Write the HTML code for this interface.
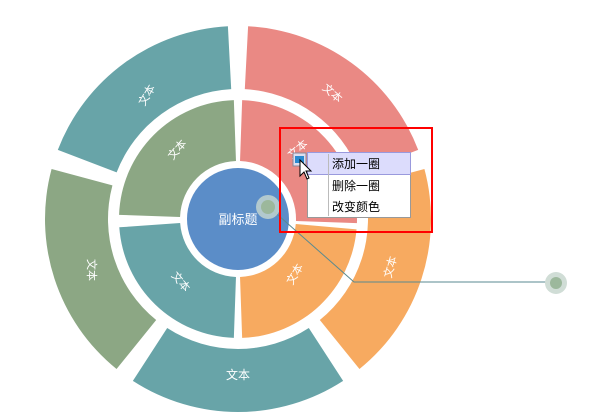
<!DOCTYPE html>
<html><head><meta charset="utf-8"><style>
body{margin:0;width:600px;height:420px;background:#fff;overflow:hidden;font-family:"Liberation Sans","Noto Sans CJK SC",sans-serif}
svg{position:absolute;left:0;top:0}
.lab{font-size:11px;fill:#fff;font-family:"Liberation Sans","Noto Sans CJK SC",sans-serif}
</style></head><body>
<svg id="s" width="600" height="420" viewBox="0 0 600 420"></svg>
<script>
var s=document.getElementById('s'),cx=238,cy=219,NS='http://www.w3.org/2000/svg';
function P(r,a){a=a*Math.PI/180;return [cx+r*Math.cos(a),cy-r*Math.sin(a)];}
function seg(r1,r2,a1,a2,col,off){
 var m=(a1+a2)/2*Math.PI/180,ox=off*Math.cos(m),oy=-off*Math.sin(m);
 var p1=P(r2,a1),p2=P(r2,a2),p3=P(r1,a2),p4=P(r1,a1),lg=Math.abs(a1-a2)>180?1:0;
 var d='M'+p1+' A'+r2+' '+r2+' 0 '+lg+' 1 '+p2+' L'+p3+' A'+r1+' '+r1+' 0 '+lg+' 0 '+p4+'Z';
 var e=document.createElementNS(NS,'path');e.setAttribute('d',d);e.setAttribute('fill',col);
 e.setAttribute('transform','translate('+ox+','+oy+')');s.appendChild(e);}
var T='#68a4a8',PK='#ea8984',G='#8ca784',O='#f7aa60';
seg(130,193,159,93,T,0);seg(130,193,87,21,PK,0);seg(130,193,15,-51,O,0);seg(130,193,-57,-123,T,0);seg(130,193,-129,-195,G,0);
seg(58,119,178,92,G,0);seg(58,119,88,-2,PK,0);seg(58,119,-5,-88,O,0);seg(58,119,-92,-176,T,0);
var h='<circle cx="238" cy="219" r="51" fill="#5b8dc8"/>'+
'<text x="238" y="224" text-anchor="middle" font-size="13" fill="#fff">副标题</text>';
function L(x,y,r,t){h+='<text class="lab" x="'+x+'" y="'+y+'" text-anchor="middle" transform="rotate('+r+' '+x+' '+y+')">'+(t||'文本')+'</text>';}
L(150,97,-60);L(330,96,40);L(394,268,-75);L(88,270,90);L(180,152,-50);L(298,276,-60);L(178,284,50);L(300,152,-40);
h+='<text x="238" y="379" text-anchor="middle" font-size="12" fill="#fff">文本</text>';
h+='<polyline points="270,208 354,282 556,282" fill="none" stroke="#5a8a90" stroke-width="1"/>';
h+='<circle cx="268" cy="207" r="12" fill="#c8d8d0" opacity="0.8"/><circle cx="268" cy="207" r="7" fill="#9cb89c"/>';
h+='<circle cx="556" cy="283" r="11" fill="#d0ddd6"/><circle cx="556" cy="283" r="6" fill="#9cb89c"/>';
h+='<rect x="280" y="128" width="152" height="104" fill="none" stroke="#f00" stroke-width="2"/>';
h+='<rect x="307.5" y="152.5" width="103" height="65" fill="#fff" stroke="#999"/>';
h+='<rect x="307.5" y="152.5" width="103" height="22" fill="#dcdcfc" stroke="#9999dd"/>';
h+='<line x1="328.5" y1="154" x2="328.5" y2="216" stroke="#bbb"/>';
h+='<text x="332" y="168" font-size="12" fill="#000">添加一圈</text><text x="332" y="190" font-size="12" fill="#000">删除一圈</text><text x="332" y="211" font-size="12" fill="#000">改变颜色</text>';
h+='<rect x="293" y="153" width="13" height="13" fill="#dde" stroke="#889"/><rect x="295" y="156" width="9" height="7" fill="#2a8ad0"/>';
h+='<path d="M300,160 L300,176 L304,172 L307,179 L309,178 L306,171 L311,171Z" fill="#fff" stroke="#000" stroke-width="1"/>';
s.insertAdjacentHTML('beforeend',h);
</script>
</body></html>
